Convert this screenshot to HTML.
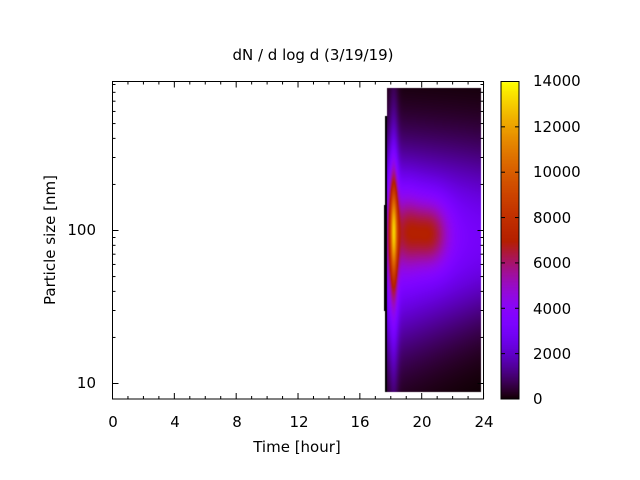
<!DOCTYPE html>
<html><head><meta charset="utf-8"><style>
html,body{margin:0;padding:0;background:#fff;width:640px;height:480px;overflow:hidden}
#c{position:absolute;left:0;top:0}
svg{position:absolute;left:0;top:0}
text{font-family:"DejaVu Sans","Liberation Sans",sans-serif;font-size:15px;fill:#000}
</style></head><body>
<canvas id="c" width="640" height="480"></canvas>
<svg width="640" height="480" id="s">
<text x="313" y="60" text-anchor="middle">dN / d log d (3/19/19)</text>
<text x="297" y="452" text-anchor="middle">Time [hour]</text>
<text transform="translate(55,240) rotate(-90)" text-anchor="middle">Particle size [nm]</text>
<g text-anchor="middle">
<text x="113" y="427">0</text><text x="175" y="427">4</text><text x="237" y="427">8</text><text x="299" y="427">12</text><text x="360" y="427">16</text><text x="422" y="427">20</text><text x="484" y="427">24</text>
</g>
<g text-anchor="end"><text x="96" y="235">100</text><text x="96" y="388">10</text></g>
<g><text x="533" y="86">14000</text><text x="533" y="132">12000</text><text x="533" y="177">10000</text><text x="533" y="223">8000</text><text x="533" y="268">6000</text><text x="533" y="314">4000</text><text x="533" y="359">2000</text><text x="533" y="404">0</text></g>
<g id="ax" stroke="#000" stroke-width="1" fill="none"></g>
</svg>
<script>
var cv=document.getElementById('c'),ctx=cv.getContext('2d');
function pal(x){x=Math.max(0,Math.min(1,x));var r=Math.sqrt(x),g=x*x*x,b=Math.max(0,Math.sin(2*Math.PI*x));return [r*255|0,g*255|0,b*255|0];}
var img=ctx.createImageData(640,480),d=img.data;
function put(x,y,c){var i=(y*640+x)*4;d[i]=c[0];d[i+1]=c[1];d[i+2]=c[2];d[i+3]=255;}
function G(a,s){return Math.exp(-a*a/(s*s));}
for(var y=88;y<392;y++)for(var x=387;x<481;x++){
 var t=17.8+(x-387)/15.5,l=2+(230-y)/153;
 var sl=(l>1.95)?0.55:0.65-0.15*(t-18)/6;
 var v=0.3*G(l-1.95,sl)*(1-0.3*(t-18)/6);
 v+=0.15*G(t-18.2,0.3)*G(l-1.9,0.9);
 v+=0.4*G(t-18.2,0.25)*G(l-2,0.34);
 v+=0.17*G(t-19.0,1.0)*G(l-2,0.25);
 v+=0.22*G(t-20.6,1.2)*G(l-1.98,0.22);
 put(x,y,pal(v));}
for(var y=82;y<399;y++){var c=pal((399-y)/317);for(var x=501;x<519;x++)put(x,y,c);}
ctx.putImageData(img,0,0);
ctx.fillStyle='#000';ctx.fillRect(385,116,2,276);ctx.fillRect(384,205,2,106);
var g=document.getElementById('ax'),h='';
function L(a,b,c,e){h+='<line x1="'+a+'" y1="'+b+'" x2="'+c+'" y2="'+e+'"/>';}
h+='<rect x="112.5" y="81.5" width="371" height="317.5"/>';
h+='<rect x="501" y="81.5" width="18" height="317.5"/>';
for(var i=0;i<=24;i++){var x=112.5+i*15.46,len=(i%4==0)?6:3;L(x,399,x,399-len);L(x,81.5,x,81.5+len);}
for(var e=0;e<3;e++)for(var k=1;k<10;k++){var v=Math.pow(10,e)*k*10;var y=383-153*(Math.log10(v)-1)+0.5;if(y<82||y>399)continue;var len=(k==1)?6:3;L(112.5,y,112.5+len,y);L(483.5,y,483.5-len,y);}
for(var j=1;j<7;j++){var y=399-j*45.36;L(501,y,505,y);L(519,y,515,y);}
g.innerHTML=h;
</script>
</body></html>
